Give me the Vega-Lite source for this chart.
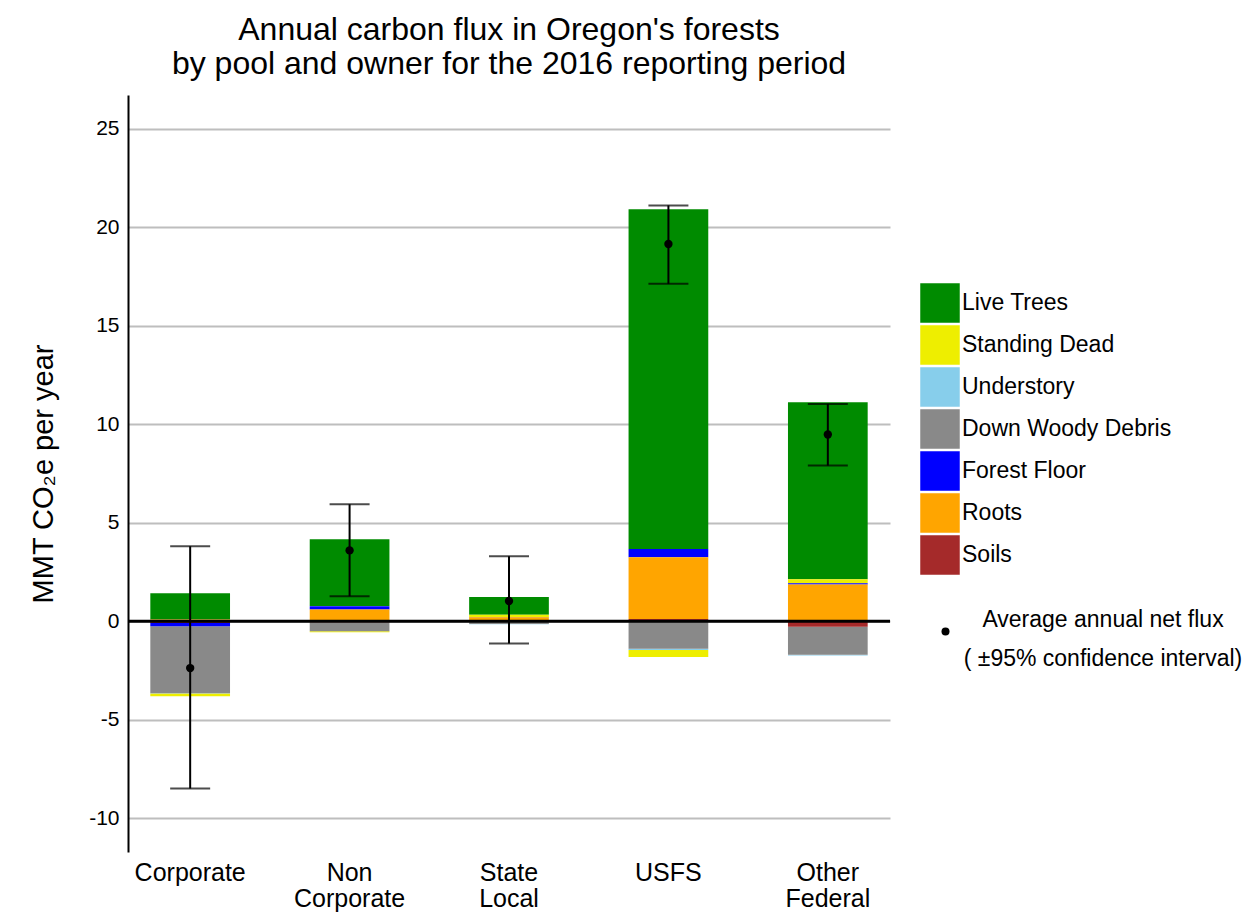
{
  "$schema": "https://vega.github.io/schema/vega-lite/v6.json",
  "width": 762,
  "height": 757,
  "autosize": {"type": "none"},
  "padding": {"left": 128, "top": 95, "right": 369, "bottom": 67},
  "background": "white",
  "title": {
    "text": ["Annual carbon flux in Oregon's forests", "by pool and owner for the 2016 reporting period"],
    "fontSize": 32,
    "fontWeight": "normal",
    "font": "Liberation Sans",
    "color": "black",
    "anchor": "middle",
    "lineHeight": 34,
    "offset": 14
  },
  "config": {
    "font": "Liberation Sans",
    "view": {"stroke": null},
    "style": {"guide-label": {"lineHeight": 39}},
    "axis": {"labelColor": "black", "titleColor": "black", "labelFont": "Liberation Sans", "titleFont": "Liberation Sans"},
    "legend": {"labelColor": "black", "labelFont": "Liberation Sans"}
  },
  "datasets": {
    "pools": [
      {"owner": "Corporate", "pool": "Live Trees", "flux": 1.33},
      {"owner": "Corporate", "pool": "Standing Dead", "flux": -0.14},
      {"owner": "Corporate", "pool": "Understory", "flux": -0.01},
      {"owner": "Corporate", "pool": "Down Woody Debris", "flux": -3.40},
      {"owner": "Corporate", "pool": "Forest Floor", "flux": -0.17},
      {"owner": "Corporate", "pool": "Roots", "flux": 0.10},
      {"owner": "Corporate", "pool": "Soils", "flux": -0.08},
      {"owner": "Non Corporate", "pool": "Live Trees", "flux": 3.38},
      {"owner": "Non Corporate", "pool": "Standing Dead", "flux": -0.05},
      {"owner": "Non Corporate", "pool": "Understory", "flux": 0.01},
      {"owner": "Non Corporate", "pool": "Down Woody Debris", "flux": -0.45},
      {"owner": "Non Corporate", "pool": "Forest Floor", "flux": 0.17},
      {"owner": "Non Corporate", "pool": "Roots", "flux": 0.60},
      {"owner": "Non Corporate", "pool": "Soils", "flux": -0.05},
      {"owner": "State Local", "pool": "Live Trees", "flux": 0.89},
      {"owner": "State Local", "pool": "Standing Dead", "flux": 0.12},
      {"owner": "State Local", "pool": "Understory", "flux": -0.01},
      {"owner": "State Local", "pool": "Down Woody Debris", "flux": -0.14},
      {"owner": "State Local", "pool": "Forest Floor", "flux": 0.01},
      {"owner": "State Local", "pool": "Roots", "flux": 0.20},
      {"owner": "State Local", "pool": "Soils", "flux": 0.01},
      {"owner": "USFS", "pool": "Live Trees", "flux": 17.24},
      {"owner": "USFS", "pool": "Standing Dead", "flux": -0.36},
      {"owner": "USFS", "pool": "Understory", "flux": -0.06},
      {"owner": "USFS", "pool": "Down Woody Debris", "flux": -1.39},
      {"owner": "USFS", "pool": "Forest Floor", "flux": 0.42},
      {"owner": "USFS", "pool": "Roots", "flux": 3.13},
      {"owner": "USFS", "pool": "Soils", "flux": 0.12},
      {"owner": "Other Federal", "pool": "Live Trees", "flux": 8.98},
      {"owner": "Other Federal", "pool": "Standing Dead", "flux": 0.21},
      {"owner": "Other Federal", "pool": "Understory", "flux": -0.03},
      {"owner": "Other Federal", "pool": "Down Woody Debris", "flux": -1.43},
      {"owner": "Other Federal", "pool": "Forest Floor", "flux": 0.06},
      {"owner": "Other Federal", "pool": "Roots", "flux": 1.87},
      {"owner": "Other Federal", "pool": "Soils", "flux": -0.27}
    ],
    "means": [
      {"owner": "Corporate", "mean": -2.37, "lower": -8.48, "upper": 3.81, "key": "Average annual net flux"},
      {"owner": "Non Corporate", "mean": 3.60, "lower": 1.27, "upper": 5.94, "key": "Average annual net flux"},
      {"owner": "State Local", "mean": 1.03, "lower": -1.12, "upper": 3.30, "key": "Average annual net flux"},
      {"owner": "USFS", "mean": 19.14, "lower": 17.12, "upper": 21.10, "key": "Average annual net flux"},
      {"owner": "Other Federal", "mean": 9.48, "lower": 7.90, "upper": 11.03, "key": "Average annual net flux"}
    ],
    "zero": [{"y": 0}]
  },
  "encoding": {
    "x": {
      "field": "owner",
      "type": "nominal",
      "sort": ["Corporate", "Non Corporate", "State Local", "USFS", "Other Federal"],
      "scale": {"paddingInner": 0.5, "paddingOuter": 0.14},
      "axis": {
        "title": null,
        "domain": false,
        "ticks": false,
        "grid": false,
        "labelAngle": 0,
        "labelFontSize": 25,
        "labelPadding": 8,
        "labelLineHeight": 26,
        "labelExpr": "split(datum.label, ' ')"
      }
    }
  },
  "layer": [
    {
      "data": {"name": "pools"},
      "transform": [
        {"calculate": "indexof(['Soils','Roots','Forest Floor','Down Woody Debris','Understory','Standing Dead','Live Trees'], datum.pool)", "as": "stackorder"}
      ],
      "mark": {"type": "bar", "strokeWidth": 0},
      "encoding": {
        "y": {
          "field": "flux",
          "type": "quantitative",
          "stack": "zero",
          "scale": {"domain": [-11.7, 26.7], "nice": false, "zero": false},
          "axis": {
            "title": "MMT CO₂e per year",
            "titleFontSize": 29,
            "titleFontWeight": "normal",
            "titlePadding": 30,
            "values": [-10, -5, 0, 5, 10, 15, 20, 25],
            "labelExpr": "toString(datum.value)",
            "labelFontSize": 21,
            "labelPadding": 9,
            "ticks": false,
            "domain": true,
            "domainColor": "black",
            "domainWidth": 2,
            "grid": true,
            "gridColor": "#BEBEBE",
            "gridWidth": 2
          }
        },
        "color": {
          "field": "pool",
          "type": "nominal",
          "scale": {
            "domain": ["Live Trees", "Standing Dead", "Understory", "Down Woody Debris", "Forest Floor", "Roots", "Soils"],
            "range": ["#008B00", "#EEEE00", "#87CEEB", "#898989", "#0000FF", "#FFA500", "#A52A2A"]
          },
          "legend": {
            "title": null,
            "orient": "none",
            "legendX": 792,
            "legendY": 188,
            "symbolType": "square",
            "symbolSize": 1560,
            "symbolStrokeWidth": 0,
            "symbolOpacity": 1,
            "labelFontSize": 23,
            "labelOffset": 2,
            "labelLimit": 400,
            "rowPadding": 2,
            "padding": 0
          }
        },
        "order": {"field": "stackorder", "type": "quantitative"}
      }
    },
    {
      "data": {"name": "zero"},
      "mark": {"type": "rule", "color": "black", "strokeWidth": 3},
      "encoding": {"y": {"field": "y", "type": "quantitative"}, "x": null}
    },
    {
      "data": {"name": "means"},
      "mark": {"type": "rule", "color": "black", "strokeWidth": 2},
      "encoding": {
        "y": {"field": "lower", "type": "quantitative"},
        "y2": {"field": "upper"}
      }
    },
    {
      "data": {"name": "means"},
      "mark": {"type": "tick", "color": "black", "size": 40, "thickness": 2, "orient": "horizontal"},
      "encoding": {"y": {"field": "lower", "type": "quantitative"}}
    },
    {
      "data": {"name": "means"},
      "mark": {"type": "tick", "color": "black", "size": 40, "thickness": 2, "orient": "horizontal"},
      "encoding": {"y": {"field": "upper", "type": "quantitative"}}
    },
    {
      "data": {"name": "means"},
      "mark": {"type": "point", "filled": true, "color": "black", "size": 70, "opacity": 1},
      "encoding": {
        "y": {"field": "mean", "type": "quantitative"},
        "shape": {
          "field": "key",
          "type": "nominal",
          "scale": {"domain": ["Average annual net flux"], "range": ["circle"]},
          "legend": {
            "title": null,
            "orient": "none",
            "legendX": 806,
            "legendY": 525,
            "symbolSize": 64,
            "symbolFillColor": "black",
            "symbolStrokeColor": "black",
            "symbolStrokeWidth": 0,
            "labelFontSize": 23,
            "labelAlign": "center",
            "labelBaseline": "bottom",
            "labelOffset": 146,
            "labelLimit": 400,
            "padding": 0,
            "labelExpr": "['Average annual net flux', '( ±95% confidence interval)']"
          }
        }
      }
    }
  ]
}
